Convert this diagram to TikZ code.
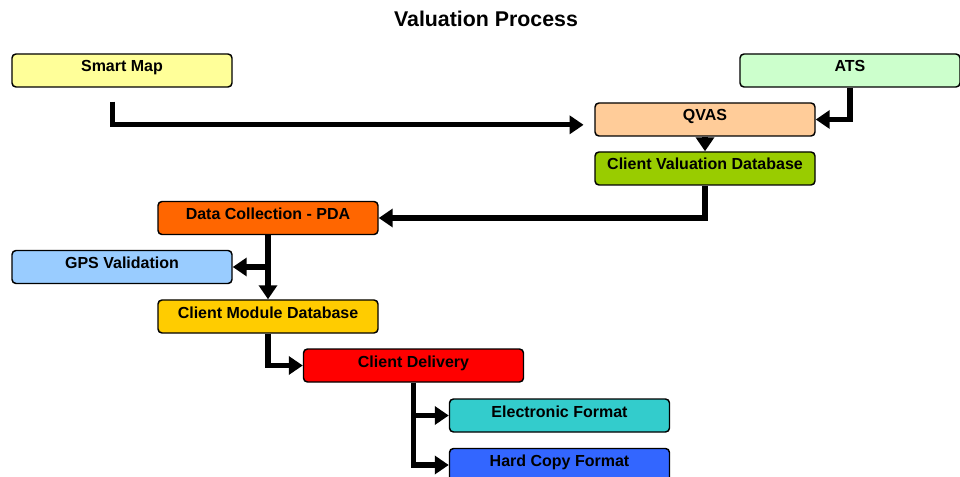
\documentclass[tikz,border=0pt]{standalone}
\usepackage{fontspec}
\setmainfont{Liberation Sans}
\usetikzlibrary{arrows.meta}
\def\BoxW{165pt}

\definecolor{smartc}{HTML}{FFFF99}
\definecolor{atsc}{HTML}{CCFFCC}
\definecolor{qvasc}{HTML}{FFCC99}
\definecolor{cvdbc}{HTML}{99CC00}
\definecolor{pdac}{HTML}{FF6600}
\definecolor{gpsc}{HTML}{99CCFF}
\definecolor{cmdbc}{HTML}{FFCC00}
\definecolor{delc}{HTML}{FF0000}
\definecolor{efmtc}{HTML}{33CCCC}
\definecolor{hcfmtc}{HTML}{3366FF}

\begin{document}
\begin{tikzpicture}[x=0.75pt, y=-0.75pt, font=\bfseries\fontsize{12}{14}\selectfont,
  stage/.style={draw, line width=1.1pt, rounded corners=3pt, minimum width=\BoxW,
    inner ysep=0pt, text height=13.5pt, text depth=11.25pt},
  flow/.style={line width=4pt, -{Triangle[length=10.5pt, width=13.5pt]}}]
  \useasboundingbox (0,0) rectangle (960,477);

  \node[font=\bfseries\fontsize{16}{19}\selectfont, anchor=base] (title) at (486, 27) {Valuation Process};

  % sources
  \node[stage, fill=smartc] (smartmap) at (122, 70.5) {Smart Map};
  \node[stage, fill=atsc] (ats) at (850, 70.5) {ATS};
  \node[stage, fill=qvasc] (qvas) at (705, 119.5) {QVAS};
  \node[stage, fill=cvdbc] (cvdb) at (705, 168.5) {Client Valuation Database};

  % field work
  \node[stage, fill=pdac] (pda) at (268, 218) {Data Collection - PDA};
  \node[stage, fill=gpsc] (gps) at (122, 267) {GPS Validation};
  \node[stage, fill=cmdbc] (cmdb) at (268, 316.5) {Client Module Database};

  % delivery
  \node[stage, fill=delc] (cdel) at (413.5, 365.5) {Client Delivery};
  \node[stage, fill=efmtc] (efmt) at (559.5, 415.5) {Electronic Format};
  \node[stage, fill=hcfmtc] (hcfmt) at (559.5, 465) {Hard Copy Format};

  \draw[flow, shorten >=8pt] ([xshift=-7pt, yshift=-10.5pt]smartmap.south) |- ([yshift=-4pt]qvas.west);
  \draw[flow] (ats.south) |- (qvas.east);
  \draw[flow] (qvas.south) -- (cvdb.north);
  \draw[flow] (cvdb.south) |- (pda.east);
  \draw[flow] (pda.south) -- (cmdb.north);
  \draw[flow] (pda.south |- gps.east) -- (gps.east);
  \draw[flow] (cmdb.south) |- (cdel.west);
  \draw[flow] (cdel.south) |- (hcfmt.west);
  \draw[flow] (cdel.south |- efmt.west) -- (efmt.west);
\end{tikzpicture}
\end{document}
